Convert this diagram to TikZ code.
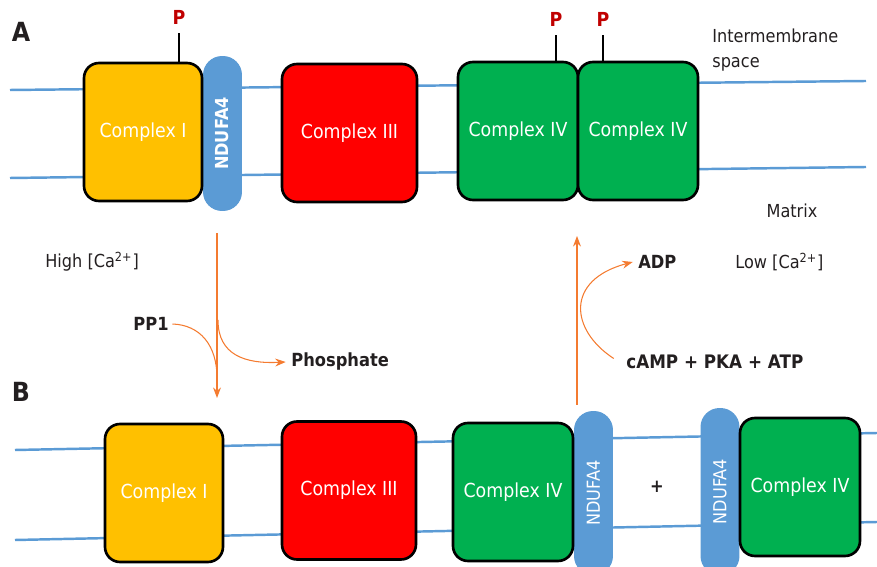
\documentclass[tikz,border=0pt]{standalone}
\usepackage{fontspec}
\setmainfont{DejaVu Sans}[FakeStretch=0.9]
\usetikzlibrary{arrows.meta}

\definecolor{cxYellow}{HTML}{FFC000}
\definecolor{cxRed}{HTML}{FF0000}
\definecolor{cxGreen}{HTML}{00B050}
\definecolor{ndBlue}{HTML}{5B9BD5}
\definecolor{memBlue}{HTML}{5B9BD5}
\definecolor{flowOrange}{HTML}{F47B30}
\definecolor{pRed}{HTML}{C00000}
\definecolor{txtDark}{HTML}{231F20}

\begin{document}
\begin{tikzpicture}
[x=0.02cm,y=-0.02cm,
  complexDecorate/.style={shape=rectangle,draw=black,line width=1.5pt,rounded corners=0.3cm,%
    text=white,font=\fontsize{11}{12}\selectfont,minimum height=2.76cm},%
  ndufaDecorate/.style={shape=rectangle,fill=ndBlue,rounded corners=0.38cm,rotate=90,%
    minimum height=0.78cm,inner sep=0pt,text=white,font=\fontsize{10.2}{12}\selectfont},%
  memDecorate/.style={draw=memBlue,line width=1.4pt},%
  stemDecorate/.style={draw=black,line width=1.7pt},%
  phosDecorate/.style={text=pRed,font=\bfseries\fontsize{11}{12}\selectfont,inner sep=1pt},%
  flowDecorate/.style={draw=flowOrange,line width=0.6pt},%
  flowArrow/.style={flowDecorate,-{Stealth[length=6pt,width=4.5pt]}},%
  labelDecorate/.style={text=txtDark,font=\fontsize{10.2}{14}\selectfont,inner sep=0pt},%
  boldDecorate/.style={text=txtDark,font=\bfseries\fontsize{10.3}{12}\selectfont,inner sep=0pt}]
\useasboundingbox (0,0) rectangle (877,567);
\clip (0,0) rectangle (877,567);
%% membranes
\foreach \nodename/\x/\y in {mAtl/10/90, mAtr/866/81, mAbl/10/178, mAbr/866/167,
  mBtl/15/450, mBtr/877/433, mBbl/15/540, mBbr/877/522}
{
  \coordinate (\nodename) at (\x,\y);
}
\foreach \startnode/\endnode in {mAtl/mAtr, mAbl/mAbr, mBtl/mBtr, mBbl/mBbr}
{
  \draw[memDecorate] (\startnode) -- (\endnode);
}
%% NDUFA4
\foreach \nodename/\x/\y/\len/\wt in {ndA/222.5/133.5/3.1/\bfseries, ndB/593.5/493/3.28/, ndC/720/491.5/3.34/}
{
  \node (\nodename) at (\x,\y) [ndufaDecorate,minimum width=\len*1cm] {\wt NDUFA4};
}
%% complexes
\foreach \nodename/\x/\y/\w/\col/\txt in {cIa/143/132/2.36/cxYellow/Complex I,
  cIIIa/349.5/133/2.7/cxRed/Complex III, cIVa/518/131/2.4/cxGreen/Complex IV,
  cIVb/638/131/2.4/cxGreen/Complex IV, cIB/164/493/2.36/cxYellow/Complex I,
  cIIIB/349/490.5/2.68/cxRed/Complex III, cIVB/513/492/2.4/cxGreen/Complex IV,
  cIVC/800/487/2.4/cxGreen/Complex IV}
{
  \node (\nodename) at (\x,\y) [complexDecorate,fill=\col,minimum width=\w*1cm] {\txt};
}
%% phosphates
\foreach \nodename/\x/\y/\cplx in {pA/179/17/cIa, pB/556/19/cIVa, pC/603/19/cIVb}
{
  \node (\nodename) at (\x,\y) [phosDecorate] {P};
  \draw[stemDecorate] ([yshift=-4pt]\nodename.south) -- (\nodename.south |- \cplx.north);
}
%% labels
\node (labA) at (21,32) [boldDecorate,font=\bfseries\fontsize{15}{16}\selectfont] {A};
\node (labB) at (21,392) [boldDecorate,font=\bfseries\fontsize{15}{16}\selectfont] {B};
\node (ims) at (712,50) [labelDecorate,anchor=west,align=left] {Intermembrane\\space};
\node (mtx) at (792,211) [labelDecorate] {Matrix};
\node (hiCa) at (45,262) [labelDecorate,anchor=west] {High [Ca\textsuperscript{2+}]};
\node (loCa) at (735,262) [labelDecorate,anchor=west] {Low [Ca\textsuperscript{2+}]};
\node (pp1) at (169,324) [boldDecorate,anchor=east] {PP1};
\node (phos) at (291,362) [boldDecorate,anchor=west] {Phosphate};
\node (adp) at (638,262) [boldDecorate,anchor=west] {ADP};
\node (camp) at (626,362) [boldDecorate,anchor=west,font=\bfseries\fontsize{10.6}{12}\selectfont] {cAMP + PKA + ATP};
\node (plus) at (657,487) [boldDecorate] {+};
%% flows
\foreach \nodename/\x/\y in {dnTop/217/233, dnEnd/217/398, dnJoin/217/378, dnSplit/218/320,
  upBot/577/405, upTop/577/236}
{
  \coordinate (\nodename) at (\x,\y);
}
\draw[flowArrow] (dnTop) -- (dnEnd);
\draw[flowDecorate] ([xshift=2pt]pp1.east) .. controls (200,325) and (217,345) .. (dnJoin);
\draw[flowArrow] (dnSplit) .. controls (218,355) and (245,364) .. ([xshift=-3pt]phos.west);
\draw[flowArrow] (upBot) -- (upTop);
\draw[flowArrow] ([shift={(-7pt,2pt)}]camp.west) .. controls (570,330) and (565,280) .. ([xshift=-3pt]adp.west);
\end{tikzpicture}
\end{document}
